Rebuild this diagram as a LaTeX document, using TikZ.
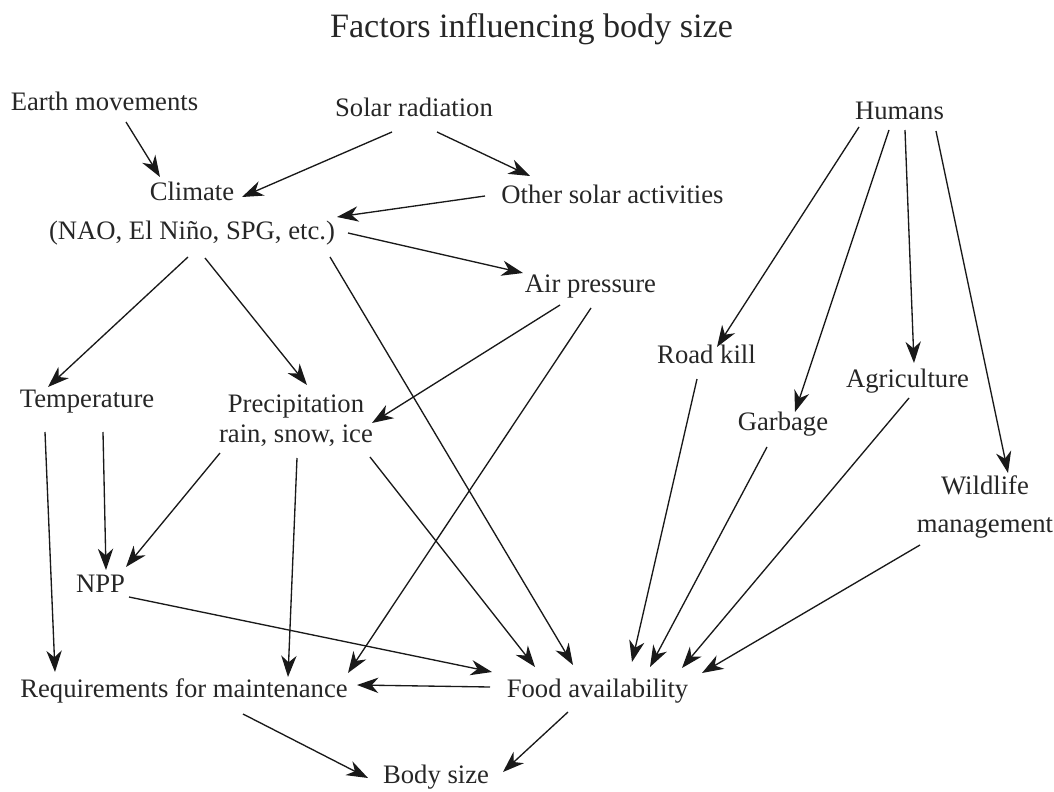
\documentclass[tikz,border=0pt]{standalone}
\usepackage{fontspec}
\setmainfont{Liberation Serif}
\usetikzlibrary{arrows.meta}
\begin{document}
\begin{tikzpicture}
[x=0.75pt, y=-0.75pt,
  textdecorate/.style={anchor=base, inner sep=0pt, align=center,
    font=\fontsize{20}{24}\selectfont, text=black!85},
  arrowdecorate/.style={-{Stealth[length=16pt,width=11.5pt,inset=5pt]},
    line width=1pt, black!90}]
\useasboundingbox (0,0) rectangle (1054,792);
%% title
\node (title) at (531.5,38) [textdecorate, font=\fontsize{25.6}{30}\selectfont]
  {Factors influencing body size};
%% nodes or factors
\foreach \nodename/\x/\y/\nodetext in {earth/104.5/111/{Earth movements},
  solar/414/117/{Solar radiation}, humans/899.5/119/{Humans},
  climate/192/239/{Climate\\[5pt](NAO, El Niño, SPG, etc.)},
  other/612.5/203/{Other solar activities}, air/590.5/292/{Air pressure},
  roadkill/706.5/363/{Road kill}, agri/907.5/387/{Agriculture},
  garbage/783/430/{Garbage}, wildlife/985/532/{Wildlife\\[4.5pt]management},
  temp/87/407/{Temperature}, precip/296/442/{Precipitation\\[-2pt]rain, snow, ice},
  npp/100.5/592/{NPP}, req/184/697/{Requirements for maintenance},
  food/597.5/697/{Food availability}, body/436/783/{Body size}}
{
  \node (\nodename) at (\x,\y) [textdecorate] {\nodetext};
}
%% edges or influences
\path
\foreach \startnode/\sx/\sy/\endnode/\ex/\ey in {
  earth/21.5/11/climate/-32/-62, solar/-22/15/climate/50/-42,
  solar/23/15/other/-82.5/-27, other/-127.5/-7/climate/145/-22,
  climate/156/-6/air/-67.5/-19, climate/-4/18/temp/-39/-20,
  climate/13/19/precip/11/-57, climate/138/18/food/-24.5/-32,
  air/-30.5/13/precip/76/-19, air/0.5/16/req/164/-24,
  temp/-42/25/req/-129/-25, temp/16/25/npp/5.5/-22,
  precip/-76/11/npp/25.5/-25, precip/1/16/req/104/-20,
  precip/74/15/food/-62.5/-30, npp/28.5/5/food/-105.5/-25,
  food/-107.5/-10/req/173/-12, req/59/17/body/-68/-5,
  food/-29.5/15/body/67/-11, humans/-40.5/8/roadkill/10.5/-16,
  humans/-10.5/11/garbage/12/-18, humans/5.5/11/agri/6.5/-24,
  humans/36.5/12/wildlife/23/-59, roadkill/-9.5/16/food/34.5/-35,
  garbage/-16/17/food/52.5/-30, agri/1.5/11/food/84.5/-29,
  wildlife/-65/13/food/104.5/-24}
{
  ([shift={(\sx,\sy)}]\startnode.base) edge[arrowdecorate]
    ([shift={(\ex,\ey)}]\endnode.base)
};
\end{tikzpicture}
\end{document}
